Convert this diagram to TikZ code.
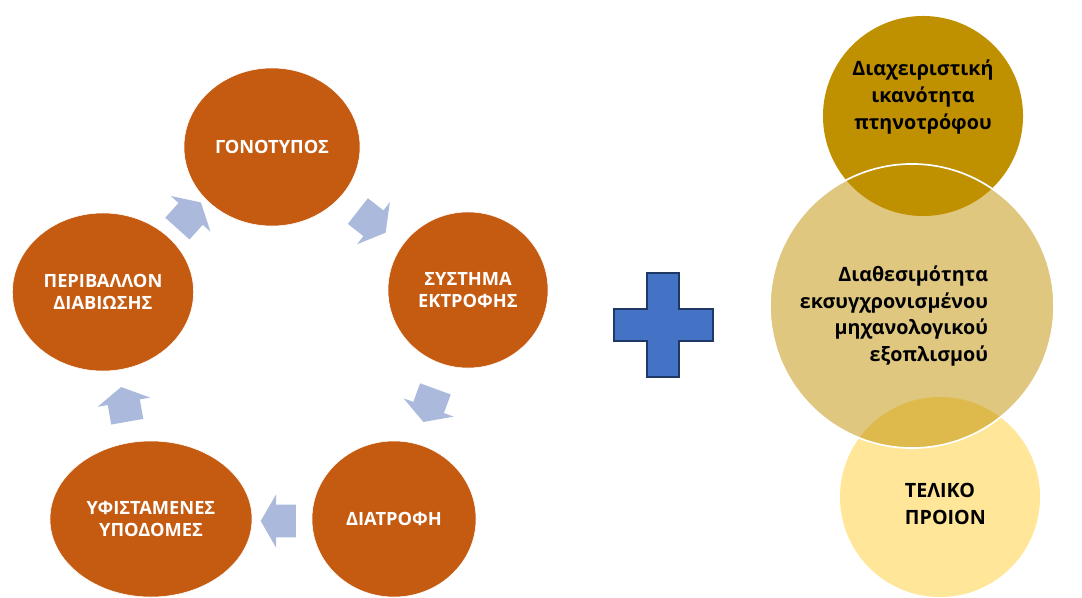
\documentclass[tikz,border=0pt]{standalone}
\usepackage{fontspec}
\setmainfont{Open Sans}
\usetikzlibrary{positioning, shapes.geometric, shapes.arrows}
\definecolor{rust}{HTML}{C55A11}
\definecolor{gold}{HTML}{BF9000}
\definecolor{cream}{HTML}{FFE699}
\definecolor{haze}{HTML}{ABB9DC}
\definecolor{royal}{HTML}{4472C4}
\definecolor{navy}{HTML}{1F3864}
\tikzset{
stage/.style={ellipse, fill=rust, draw=white, thin, text=white, align=center, font=\bfseries\fontsize{13}{15.5}\selectfont}, % the orange cycle steps
turn/.style={single arrow, fill=haze, inner xsep=0pt, inner ysep=0.4cm, minimum height=0.88cm, single arrow head extend=0.26cm, single arrow tip angle=120}, % block arrows between steps
blob/.style={circle, minimum size=5cm, inner sep=0pt}, % the circles on the right
note/.style={font=\bfseries\fontsize{14}{19}\selectfont, text=black}, % text inside the circles
plus/.style={fill=royal, draw=navy, line width=1.8pt, line join=miter}, % the big plus sign
}
\begin{document}
\begin{tikzpicture}[x=0.025cm, y=-0.025cm]
\useasboundingbox (0,0) rectangle (1082,597);
% cycle of steps
\node[stage, minimum width=4.4cm, minimum height=3.95cm] (gono) at (272,147) {ΓΟΝΟΤΥΠΟΣ};
\node[stage, minimum width=4.0cm, minimum height=3.9cm] (systima) at (468,290) {ΣΥΣΤΗΜΑ\\ΕΚΤΡΟΦΗΣ};
\node[stage, minimum width=4.1cm, minimum height=3.9cm] (diatrofi) at (394,519) {ΔΙΑΤΡΟΦΗ};
\node[stage, minimum width=5.05cm, minimum height=3.9cm] (ypodomes) at (151,519) {ΥΦΙΣΤΑΜΕΝΕΣ\\ΥΠΟΔΟΜΕΣ};
\node[stage, minimum width=4.5cm, minimum height=3.95cm] (perivallon) at (103,292) {ΠΕΡΙΒΑΛΛΟΝ\\ΔΙΑΒΙΩΣΗΣ};
\node[turn, rotate=48] (a1) at (186,219) {};
\node[turn, rotate=-38] (a2) at (368,219) {};
\node[turn, rotate=-110] (a3) at (431,401) {};
\node[turn, rotate=180] (a4) at (283,521) {};
\node[turn, rotate=100] (a5) at (125,409) {};
% plus sign
\draw[plus] (647,273) -- (679,273) -- (679,309) -- (713,309) -- (713,341) -- (679,341) -- (679,377)
  -- (647,377) -- (647,341) -- (614,341) -- (614,309) -- (647,309) -- cycle;
% right hand circles
\node[blob, fill=cream] (final) at (940,497) {};
\node[blob, fill=gold] (skill) at (923,116) {};
\node[blob, fill=gold, fill opacity=0.5, draw=white, line width=1.2pt, minimum size=7.1cm] (equip) at (912,306) {};
\node[note, align=center] (skilltext) at (923,97) {Διαχειριστική\\ικανότητα\\πτηνοτρόφου};
\node[note, align=right, anchor=east] (equiptext) at (993,316) {Διαθεσιμότητα\\εκσυγχρονισμένου\\μηχανολογικού\\εξοπλισμού};
\node[note, align=left, anchor=west] (finaltext) at (900,504) {ΤΕΛΙΚΟ\\ΠΡΟΙΟΝ};
\end{tikzpicture}
\end{document}
